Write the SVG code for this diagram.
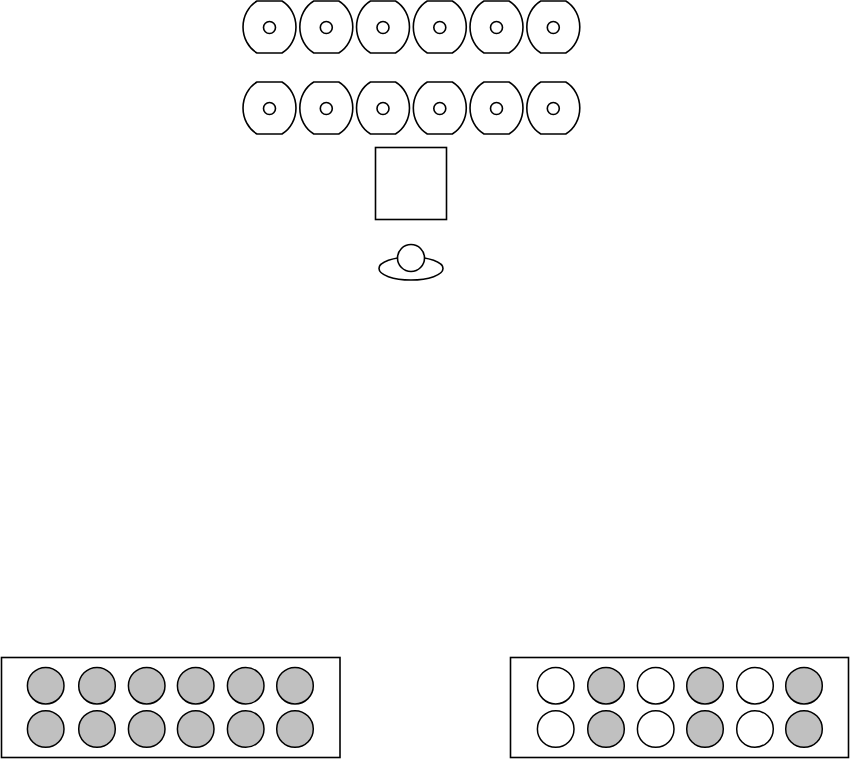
<svg xmlns="http://www.w3.org/2000/svg" xmlns:xlink="http://www.w3.org/1999/xlink" width="850" height="759" viewBox="0 0 850 759">
<style>
.s{fill:#fff;stroke:#000;stroke-width:1.6}
.g{fill:#c0c0c0;stroke:#000;stroke-width:1.5}
.w{fill:#fff;stroke:#000;stroke-width:1.5}
</style>
<defs>
<g id="disc">
<path class="s" d="M-12.5,-26 L12.5,-26 A26.5,29.5 0 0 1 12.5,26 L-12.5,26 A26.5,29.5 0 0 1 -12.5,-26 Z"/>
<circle class="s" cx="0" cy="0.5" r="6"/>
</g>
</defs>
<rect width="850" height="759" fill="#fff"/>
<g id="row1">
<use xlink:href="#disc" x="269.5" y="27"/>
<use xlink:href="#disc" x="326.3" y="27"/>
<use xlink:href="#disc" x="383" y="27"/>
<use xlink:href="#disc" x="439.8" y="27"/>
<use xlink:href="#disc" x="496.5" y="27"/>
<use xlink:href="#disc" x="553.3" y="27"/>
</g>
<g id="row2">
<use xlink:href="#disc" x="269.5" y="108"/>
<use xlink:href="#disc" x="326.3" y="108"/>
<use xlink:href="#disc" x="383" y="108"/>
<use xlink:href="#disc" x="439.8" y="108"/>
<use xlink:href="#disc" x="496.5" y="108"/>
<use xlink:href="#disc" x="553.3" y="108"/>
</g>
<g id="table"><rect class="s" x="375.5" y="147.5" width="71" height="72"/></g>
<g id="person">
<ellipse class="s" cx="411" cy="268.5" rx="32" ry="11.5"/>
<circle class="s" cx="411" cy="258" r="13.5"/>
</g>
<g id="boxLeft">
<rect class="s" x="1.5" y="657.5" width="338.5" height="100"/>
<circle class="g" cx="45.7" cy="685.7" r="18.3"/>
<circle class="g" cx="97" cy="685.7" r="18.3"/>
<circle class="g" cx="146.7" cy="685.7" r="18.3"/>
<circle class="g" cx="195.7" cy="685.7" r="18.3"/>
<circle class="g" cx="245.7" cy="685.7" r="18.3"/>
<circle class="g" cx="295" cy="685.7" r="18.3"/>
<circle class="g" cx="45.7" cy="729" r="18.3"/>
<circle class="g" cx="97" cy="729" r="18.3"/>
<circle class="g" cx="146.7" cy="729" r="18.3"/>
<circle class="g" cx="195.7" cy="729" r="18.3"/>
<circle class="g" cx="245.7" cy="729" r="18.3"/>
<circle class="g" cx="295" cy="729" r="18.3"/>
</g>
<g id="boxRight">
<rect class="s" x="510.5" y="657.5" width="338" height="100"/>
<circle class="w" cx="555.7" cy="685.7" r="18.3"/>
<circle class="g" cx="606" cy="685.7" r="18.3"/>
<circle class="w" cx="655.7" cy="685.7" r="18.3"/>
<circle class="g" cx="705" cy="685.7" r="18.3"/>
<circle class="w" cx="755" cy="685.7" r="18.3"/>
<circle class="g" cx="804" cy="685.7" r="18.3"/>
<circle class="w" cx="555.7" cy="729" r="18.3"/>
<circle class="g" cx="606" cy="729" r="18.3"/>
<circle class="w" cx="655.7" cy="729" r="18.3"/>
<circle class="g" cx="705" cy="729" r="18.3"/>
<circle class="w" cx="755" cy="729" r="18.3"/>
<circle class="g" cx="804" cy="729" r="18.3"/>
</g>
<g id="connectors"/>
</svg>
